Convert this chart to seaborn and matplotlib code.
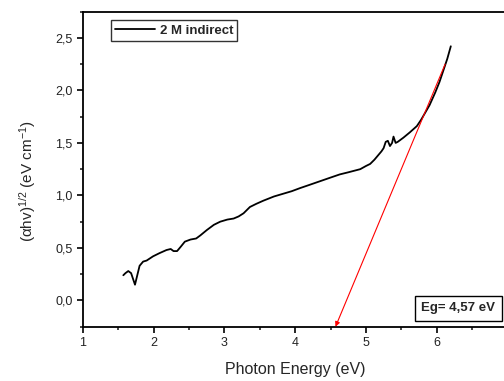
import matplotlib
matplotlib.use("Agg")
import matplotlib.pyplot as plt
import seaborn as sns
import pandas as pd
from matplotlib.ticker import MultipleLocator, FuncFormatter

energy = [1.57, 1.60, 1.64, 1.68, 1.71, 1.735, 1.76, 1.80, 1.85, 1.90, 1.99, 2.08,
          2.18, 2.24, 2.28, 2.33, 2.38, 2.44, 2.52, 2.60, 2.66, 2.75, 2.85, 2.94,
          3.04, 3.13, 3.20, 3.27, 3.36, 3.45, 3.55, 3.70, 3.80, 3.95, 4.07, 4.20,
          4.35, 4.50, 4.63, 4.75, 4.92, 5.00, 5.06, 5.12, 5.17, 5.22, 5.25, 5.28,
          5.31, 5.34, 5.37, 5.39, 5.42, 5.45, 5.53, 5.62, 5.72, 5.78, 5.84, 5.90,
          5.98, 6.04, 6.10, 6.15, 6.20]
signal = [0.24, 0.26, 0.28, 0.26, 0.20, 0.15, 0.22, 0.33, 0.37, 0.38, 0.42, 0.45,
          0.48, 0.49, 0.47, 0.47, 0.51, 0.56, 0.58, 0.59, 0.62, 0.67, 0.72, 0.75,
          0.77, 0.78, 0.80, 0.83, 0.89, 0.92, 0.95, 0.99, 1.01, 1.04, 1.07, 1.10,
          1.135, 1.17, 1.20, 1.22, 1.25, 1.28, 1.30, 1.34, 1.38, 1.42, 1.45, 1.51,
          1.52, 1.47, 1.50, 1.56, 1.50, 1.51, 1.55, 1.60, 1.66, 1.72, 1.79, 1.86,
          1.98, 2.08, 2.20, 2.30, 2.42]
series_label = "2 M indirect"
fit_start = (6.12, 2.25)
fit_end = (4.57, -0.25)
eg_text = "Eg= 4,57 eV"
x_ticks = [1, 2, 3, 4, 5, 6]
y_ticks = [0.0, 0.5, 1.0, 1.5, 2.0, 2.5]

sns.set_theme(style="ticks")
plt.rcParams["font.family"] = ["Liberation Sans", "DejaVu Sans"]
plt.rcParams["mathtext.fontset"] = "custom"
plt.rcParams["mathtext.rm"] = "Liberation Sans"
plt.rcParams["mathtext.it"] = "Liberation Sans"
plt.rcParams["mathtext.default"] = "regular"

fig = plt.figure(figsize=(5.04, 3.81), dpi=100)
ax = fig.add_axes([0.1647, 0.1425, 0.842, 0.827])

df = pd.DataFrame({"E": energy, "S": signal})
sns.lineplot(data=df, x="E", y="S", ax=ax, color="black", lw=1.3, label=series_label)

ax.annotate("", xy=fit_end, xytext=fit_start,
            arrowprops=dict(arrowstyle="-|>", color="red", lw=0.8,
                            mutation_scale=7, shrinkA=0, shrinkB=0))

ax.set_xlim(1, 7)
ax.set_ylim(-0.25, 2.75)
ax.set_xticks(x_ticks)
ax.set_yticks(y_ticks)
ax.xaxis.set_minor_locator(MultipleLocator(0.5))
ax.yaxis.set_minor_locator(MultipleLocator(0.25))
ax.xaxis.set_major_formatter(FuncFormatter(lambda v, p: f"{v:.0f}"))
ax.yaxis.set_major_formatter(FuncFormatter(lambda v, p: f"{v:.1f}".replace(".", ",")))
ax.tick_params(axis="both", which="major", direction="out", length=4, width=1.2,
               labelsize=9, colors="black", labelcolor="#222222")
ax.tick_params(axis="both", which="minor", direction="out", length=2.5, width=1.2)
for s in ax.spines.values():
    s.set_linewidth(1.3)
    s.set_color("black")

ax.set_xlabel("Photon Energy (eV)", fontsize=11.5, labelpad=9)
ax.set_ylabel(r"$(\alpha hv)^{1/2}$ (eV cm$^{-1}$)", fontsize=11)
ax.yaxis.set_label_coords(-0.106, 0.4625)

leg = ax.legend(loc="upper left", bbox_to_anchor=(0.066, 0.972), frameon=True,
                fancybox=False, edgecolor="black", fontsize=9.5, handlelength=3,
                borderpad=0.3, handletextpad=0.4, borderaxespad=0)
leg.get_frame().set_linewidth(1.0)
for t in leg.get_texts():
    t.set_fontweight("bold")

ax.text(0.884, 0.059, eg_text, transform=ax.transAxes, fontsize=9.5,
        fontweight="bold", ha="center", va="center",
        bbox=dict(boxstyle="square,pad=0.5", fc="white", ec="black", lw=1.0))

fig.savefig("out.png", dpi=100)
